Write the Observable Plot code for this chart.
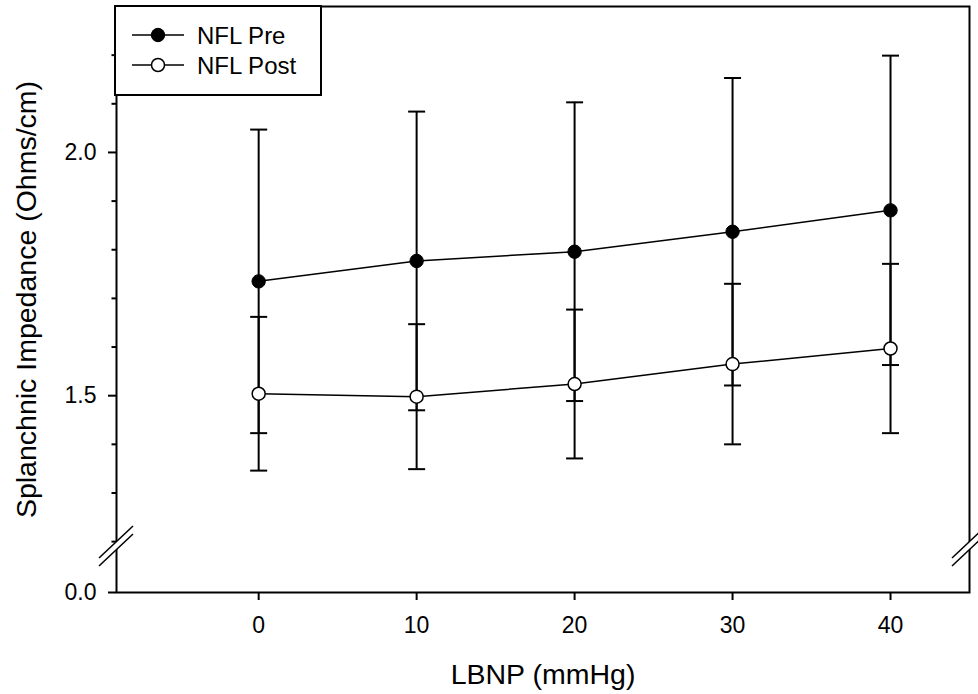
<!DOCTYPE html>
<html><head><meta charset="utf-8">
<script src="https://cdn.jsdelivr.net/npm/d3@7"></script>
<script src="https://cdn.jsdelivr.net/npm/@observablehq/plot@0.6"></script>
<style>body{margin:0;background:#fff;}</style>
</head><body><div id="chart"></div>
<script>
const lbnp = [0, 10, 20, 30, 40];
const preMean = [1.735, 1.777, 1.796, 1.837, 1.881];
const preErr = [0.312, 0.307, 0.307, 0.316, 0.318];
const postMean = [1.504, 1.498, 1.524, 1.565, 1.597];
const postErr = [0.158, 0.149, 0.153, 0.165, 0.174];
const seriesNames = ["NFL Pre", "NFL Post"];
const xTicks = [0, 10, 20, 30, 40];
const xDomain = [-9, 45];
const yMajorTicks = [0, 1.5, 2.0];
const yMinorTicks = [1.2, 1.3, 1.4, 1.6, 1.7, 1.8, 1.9, 2.1, 2.2];
const yBreak = 1.19;
const yTop = 2.3;
const xLabel = "LBNP (mmHg)";
const yLabel = "Splanchnic Impedance (Ohms/cm)";

const pre = lbnp.map((x, i) => ({series: seriesNames[0], x, m: preMean[i], e: preErr[i]}));
const post = lbnp.map((x, i) => ({series: seriesNames[1], x, m: postMean[i], e: postErr[i]}));
const all = pre.concat(post);

const capSymbol = {draw(ctx) { ctx.moveTo(-8.5, 0); ctx.lineTo(8.5, 0); }};

const breakMark = (index, scales) => {
  const g = d3.create("svg:g");
  const yb = scales.y(yBreak);
  for (const xv of xDomain) {
    const xs = scales.x(xv);
    const a = [xs - 17, yb - 4 + 16], b = [xs + 17, yb - 4 - 16];
    const c = [xs + 17, yb + 4 - 16], d = [xs - 17, yb + 4 + 16];
    g.append("polygon").attr("points", [a, b, c, d].map(p => p.join(",")).join(" ")).attr("fill", "white");
    g.append("line").attr("x1", a[0]).attr("y1", a[1]).attr("x2", b[0]).attr("y2", b[1]).attr("stroke", "black").attr("stroke-width", 1.5);
    g.append("line").attr("x1", d[0]).attr("y1", d[1]).attr("x2", c[0]).attr("y2", c[1]).attr("stroke", "black").attr("stroke-width", 1.5);
  }
  return g.node();
};

const svg = Plot.plot({
  width: 978,
  height: 694,
  marginLeft: 116,
  marginRight: 9,
  marginTop: 6,
  marginBottom: 102,
  style: {fontFamily: "'Liberation Sans', Arial, sans-serif", background: "white", color: "black"},
  x: {domain: xDomain},
  y: {type: "linear", domain: [0, yBreak, yTop], range: [592, 546, 6]},
  marks: [
    Plot.frame({stroke: "black", strokeWidth: 2}),
    Plot.axisX({ticks: xTicks, tickSize: 8, tickPadding: 16, fontSize: 23, strokeWidth: 2, label: null}),
    Plot.axisY({ticks: yMajorTicks, tickFormat: d3.format(".1f"), tickSize: 8, tickPadding: 12, fontSize: 23, strokeWidth: 2, label: null}),
    Plot.axisY({ticks: yMinorTicks, tickFormat: () => "", tickSize: 4.5, strokeWidth: 2, label: null}),
    breakMark,
    Plot.ruleX(all, {x: "x", y1: d => d.m - d.e, y2: d => d.m + d.e, stroke: "black", strokeWidth: 2}),
    Plot.dot(all, {x: "x", y: d => d.m + d.e, symbol: capSymbol, stroke: "black", strokeWidth: 2, fill: "none"}),
    Plot.dot(all, {x: "x", y: d => d.m - d.e, symbol: capSymbol, stroke: "black", strokeWidth: 2, fill: "none"}),
    Plot.line(pre, {x: "x", y: "m", stroke: "black", strokeWidth: 1.5}),
    Plot.line(post, {x: "x", y: "m", stroke: "black", strokeWidth: 1.5}),
    Plot.dot(pre, {x: "x", y: "m", r: 6.7, fill: "black", stroke: "black", strokeWidth: 1}),
    Plot.dot(post, {x: "x", y: "m", r: 6.5, fill: "white", stroke: "black", strokeWidth: 1.5}),
    Plot.text([xLabel], {text: d => d, frameAnchor: "bottom", dy: 82, fontSize: 28.5, textAnchor: "middle", lineAnchor: "middle", fill: "black"}),
    Plot.text([yLabel], {text: d => d, frameAnchor: "left", rotate: -90, dx: -90, fontSize: 28.5, textAnchor: "middle", lineAnchor: "middle", fill: "black"})
  ]
});

const lg = d3.select(svg).append("g").attr("transform", "translate(115,6)");
lg.append("rect").attr("x", 0).attr("y", 0).attr("width", 206).attr("height", 89)
  .attr("fill", "white").attr("stroke", "black").attr("stroke-width", 2);
seriesNames.forEach((name, i) => {
  const yy = 29 + 30 * i;
  const e = lg.append("g").attr("transform", `translate(0,${yy})`);
  e.append("line").attr("x1", 17).attr("x2", 69).attr("y1", 0).attr("y2", 0).attr("stroke", "black").attr("stroke-width", 1.5);
  e.append("circle").attr("cx", 43).attr("cy", 0).attr("r", i === 0 ? 6.7 : 6.5)
    .attr("fill", i === 0 ? "black" : "white").attr("stroke", "black").attr("stroke-width", i === 0 ? 1 : 1.5);
  e.append("text").attr("x", 82).attr("y", 8.6).attr("font-size", 24).attr("fill", "black")
    .attr("text-anchor", "start")
    .attr("font-family", "'Liberation Sans', Arial, sans-serif").text(name);
});

document.getElementById("chart").appendChild(svg);
</script>
</body></html>
